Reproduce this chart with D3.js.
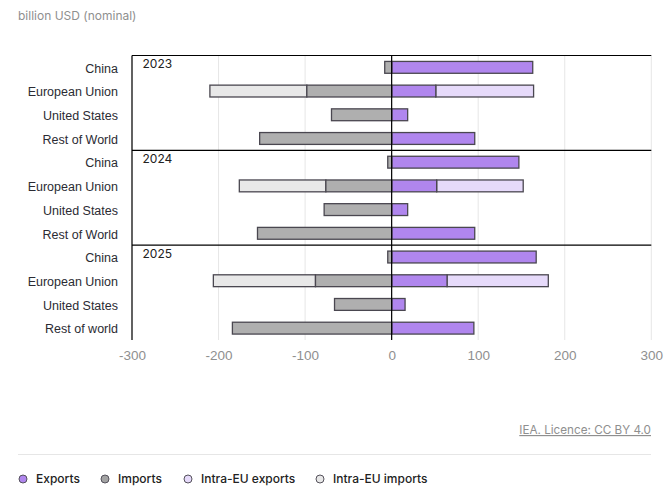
<!DOCTYPE html>
<head>
  <meta charset="utf-8">
  <style>
  html, body {
    margin: 0;
    background: #fff;
    font-family: Inter, "Noto Sans", sans-serif;
  }

  .chart {
    display: block;
  }

  .axis--x path, .axis--x line, .axis--y path, .axis--y line {
    display: none;
  }

  .axis--x text {
    font-size: 13.5px;
    fill: #8f8f8f;
  }

  .axis--y text {
    font-size: 12.5px;
    fill: #2b2b33;
  }

  .grid line {
    stroke: #e6e6e6;
    stroke-width: 1px;
  }

  .bar {
    stroke: #4a4750;
    stroke-width: 1.3px;
  }

  .frame {
    stroke: #000;
    stroke-width: 1.2px;
  }

  .year {
    font-size: 12px;
    fill: #222;
  }

  .unit {
    font-size: 12px;
    fill: #8f8f8f;
  }

  .source {
    font-size: 11.7px;
    fill: #8f8f8f;
    text-decoration: underline;
  }

  .legend-label {
    font-size: 12px;
    font-weight: 500;
    fill: #222;
  }
</style>
</head>
<svg class="chart" width="667" height="497"></svg>

<script src="https://cdnjs.cloudflare.com/ajax/libs/d3/7.8.5/d3.min.js"></script>
<script>
// one entry per row, top to bottom
var years = ["2023", "2024", "2025"];
var regions = [
  "China", "European Union", "United States", "Rest of World",
  "China", "European Union", "United States", "Rest of World",
  "China", "European Union", "United States", "Rest of world"
];
var exportsBn = [163, 51, 18.5, 96, 147, 52, 18.5, 96, 167, 64, 15.5, 95];
var intraExports = [0, 113, 0, 0, 0, 100, 0, 0, 0, 117, 0, 0];
var importsBn = [8, 98, 69.5, 152.5, 4.5, 76, 78, 155, 4.5, 88, 66, 184];
var intraImports = [0, 112, 0, 0, 0, 100, 0, 0, 0, 118, 0, 0];
var xTicks = [-300, -200, -100, 0, 100, 200, 300];

var legendItems = [
  { label: "Exports", fill: "#b086ee", x: 18 },
  { label: "Imports", fill: "#a3a3a3", x: 100 },
  { label: "Intra-EU exports", fill: "#e6dafa", x: 183 },
  { label: "Intra-EU imports", fill: "#e8e8e8", x: 315 }
];

var svg = d3.select("svg"),
  margin = { top: 55.5, left: 132, right: 15.7, bottom: 157 },
  width = svg.attr("width") - margin.left - margin.right,
  height = svg.attr("height") - margin.top - margin.bottom,
  g = svg
    .append("g")
    .attr("transform", "translate(" + margin.left + "," + margin.top + ")");

var x = d3.scaleLinear().domain([-300, 300]).range([0, width]);
var y = d3
  .scaleBand()
  .domain(d3.range(regions.length))
  .range([0, height])
  .paddingInner(0.5)
  .paddingOuter(0.25);

g
  .append("g")
  .attr("class", "grid")
  .selectAll("line")
  .data(xTicks)
  .enter()
  .append("line")
  .attr("x1", x)
  .attr("x2", x)
  .attr("y1", 0)
  .attr("y2", height);

g
  .append("g")
  .attr("class", "axis axis--x")
  .attr("transform", "translate(0," + height + ")")
  .call(d3.axisBottom(x).tickValues(xTicks).tickSize(0).tickPadding(10).tickFormat(String));

g
  .append("g")
  .attr("class", "axis axis--y")
  .call(d3.axisLeft(y).tickSize(0).tickPadding(14).tickFormat(function(i) {
    return regions[i];
  }))
  .selectAll("text")
  .attr("dy", "0.42em");

// stacked segments going out from zero on both sides
function addSegments(start, values, fill) {
  g
    .append("g")
    .selectAll("rect")
    .data(values.map(function(v, i) {
      return { i: i, from: start[i], to: start[i] + v };
    }).filter(function(d) {
      return d.from !== d.to;
    }))
    .enter()
    .append("rect")
    .attr("class", "bar")
    .attr("x", function(d) {
      return Math.min(x(d.from), x(d.to));
    })
    .attr("y", function(d) {
      return y(d.i);
    })
    .attr("width", function(d) {
      return Math.abs(x(d.to) - x(d.from));
    })
    .attr("height", y.bandwidth())
    .attr("fill", fill);
}

var negate = function(v) {
  return -v;
};
var zeros = regions.map(function() {
  return 0;
});

addSegments(exportsBn, intraExports, legendItems[2].fill);
addSegments(zeros, exportsBn, legendItems[0].fill);
addSegments(importsBn.map(negate), intraImports.map(negate), legendItems[3].fill);
addSegments(zeros, importsBn.map(negate), "#afafaf");

// panel rules and year labels
var panelH = height / years.length;
years.forEach(function(year, k) {
  g
    .append("line")
    .attr("class", "frame")
    .attr("x1", 0)
    .attr("x2", width)
    .attr("y1", k * panelH)
    .attr("y2", k * panelH);
  g
    .append("text")
    .attr("class", "year")
    .attr("x", 10.5)
    .attr("y", k * panelH + 12.5)
    .text(year);
});

g
  .append("line")
  .attr("class", "frame")
  .attr("x1", 0)
  .attr("x2", 0)
  .attr("y1", 0)
  .attr("y2", height);

g
  .append("line")
  .attr("class", "frame")
  .attr("x1", x(0))
  .attr("x2", x(0))
  .attr("y1", 0)
  .attr("y2", height);

svg.append("text").attr("class", "unit").attr("x", 18).attr("y", 20).text("billion USD (nominal)");

svg
  .append("text")
  .attr("class", "source")
  .attr("x", 651)
  .attr("y", 434)
  .attr("text-anchor", "end")
  .text("IEA. Licence: CC BY 4.0");

svg
  .append("line")
  .attr("x1", 18)
  .attr("x2", 651)
  .attr("y1", 454.5)
  .attr("y2", 454.5)
  .attr("stroke", "#e6e6e6");

var legend = svg
  .selectAll(".legend")
  .data(legendItems)
  .enter()
  .append("g")
  .attr("class", "legend")
  .attr("transform", function(d) {
    return "translate(" + d.x + ",479)";
  });

legend
  .append("circle")
  .attr("cx", 5)
  .attr("r", 4)
  .attr("fill", function(d) {
    return d.fill;
  })
  .attr("stroke", "#55525c")
  .attr("stroke-width", 1);

legend
  .append("text")
  .attr("class", "legend-label")
  .attr("x", 18)
  .attr("dy", "0.35em")
  .text(function(d) {
    return d.label;
  });
</script>
